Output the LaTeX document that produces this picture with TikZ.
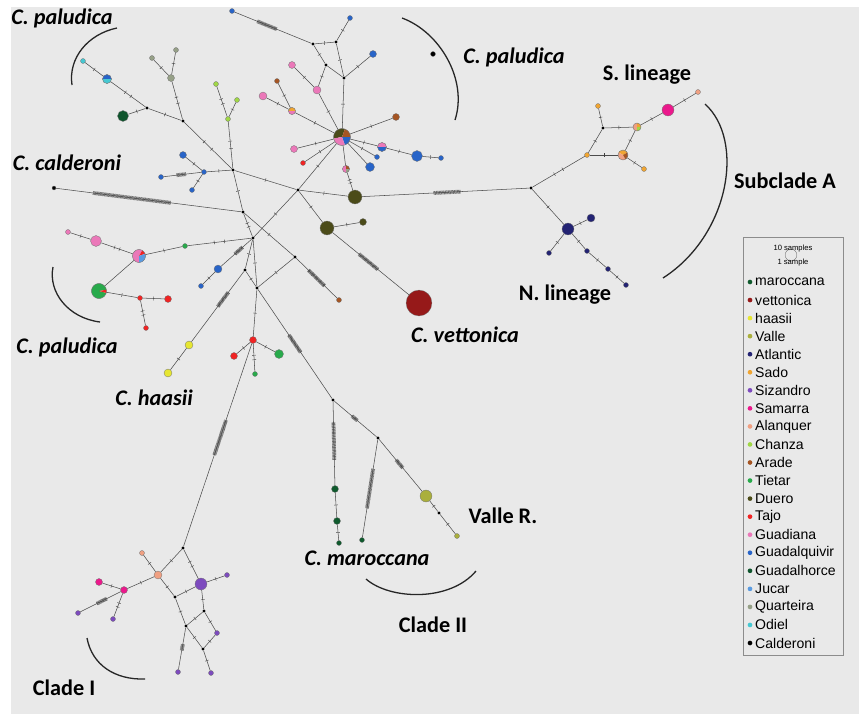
\documentclass[tikz,border=0pt]{standalone}
\usepackage{fontspec}
\setmainfont{Carlito}
\newfontfamily\legfont{Liberation Sans}
\usepackage{tikz}
\usetikzlibrary{decorations.markings}

\definecolor{bggray}{RGB}{233,233,233}
\definecolor{maroccana}{RGB}{15,90,45}
\definecolor{vettonica}{RGB}{150,25,25}
\definecolor{haasii}{RGB}{230,230,50}
\definecolor{Valle}{RGB}{170,175,60}
\definecolor{Atlantic}{RGB}{35,35,115}
\definecolor{Sado}{RGB}{240,165,50}
\definecolor{Sizandro}{RGB}{125,75,190}
\definecolor{Samarra}{RGB}{235,25,140}
\definecolor{Alanquer}{RGB}{240,160,130}
\definecolor{Chanza}{RGB}{160,215,70}
\definecolor{Arade}{RGB}{165,85,35}
\definecolor{Tietar}{RGB}{40,170,75}
\definecolor{Duero}{RGB}{75,75,25}
\definecolor{Tajo}{RGB}{240,35,35}
\definecolor{Guadiana}{RGB}{235,120,185}
\definecolor{Guadalquivir}{RGB}{40,100,200}
\definecolor{Guadalhorce}{RGB}{15,85,45}
\definecolor{Jucar}{RGB}{90,155,225}
\definecolor{Quarteira}{RGB}{150,160,135}
\definecolor{Odiel}{RGB}{70,200,210}
\definecolor{Calderoni}{RGB}{0,0,0}

\newcommand\tickmark{\draw[black!75,line width=0.35pt] (0,-1.6pt) -- (0,1.6pt);}
\newcommand\pieslice[5]{\fill[#5] (#1.center) -- ++(#3:#2) arc[start angle=#3,end angle=#4,radius=#2] -- cycle;}
\newcommand\pieline[2]{\draw[black!55,line width=0.25pt] (#1.center) circle[radius=#2];}

\begin{document}
\begin{tikzpicture}[x=0.03cm,y=-0.03cm]
\tikzset{
  lk/.style={draw=black!70,line width=0.45pt},
  t1/.style={postaction={decorate,decoration={markings,mark=at position 0.5 with {\tickmark}}}},
  t2/.style={postaction={decorate,decoration={markings,mark=at position 0.42 with {\tickmark},mark=at position 0.58 with {\tickmark}}}},
  bar/.style 2 args={postaction={decorate,decoration={markings,mark=between positions #1 and #2 step 0.7pt with {\tickmark}}}},
  hap/.style 2 args={circle,draw=black!55,line width=0.25pt,fill=#1,inner sep=0pt,minimum size=#2*0.85pt},
  jn/.style={circle,fill=black,inner sep=0pt,minimum size=2.8pt},
  clab/.style={font=\fontsize{19}{22}\selectfont\bfseries\itshape},
  glab/.style={font=\fontsize{19}{22}\selectfont\bfseries},
  brace/.style={draw=black!85,line width=1.1pt},
  legtext/.style={font=\legfont\fontsize{12}{14}\selectfont,inner sep=0pt}
}
\useasboundingbox (0,0) rectangle (859,714);
\fill[bggray] (11,7) rectangle (859,714);

% haplotypes, upper left
\node[hap={Odiel}{5}] (od) at (83,61) {};
\node[hap={white}{9}] (bc) at (107,79) {};
\node[hap={Guadalhorce}{11}] (gh) at (123,116) {};
\node[jn] (ja) at (147,108) {};
\node[jn] (jb) at (183,121) {};
\node[hap={Quarteira}{5}] (qa1) at (152,58) {};
\node[hap={Quarteira}{5}] (qa2) at (176,50) {};
\node[hap={Quarteira}{7}] (qa3) at (171,78) {};
\node[hap={Chanza}{5}] (ch1) at (216,84) {};
\node[hap={Chanza}{5}] (ch2) at (237,100) {};
\node[hap={Chanza}{5}] (ch3) at (228,119) {};
\node[jn] (j1) at (233,170) {};
\node[hap={Guadalquivir}{5}] (gb1) at (204,172) {};
\node[hap={Guadalquivir}{7}] (gb2) at (183,155) {};
\node[hap={Guadalquivir}{5}] (gb3) at (161,177) {};
\node[hap={Guadalquivir}{5}] (gb4) at (192,190) {};
\node[hap={Calderoni}{4}] (cal) at (54,188) {};

% centre of the network
\node[jn] (j2) at (298,190) {};
\node[jn] (j3) at (243,212) {};
\node[jn] (j4) at (253,238) {};
\node[jn] (j5) at (295,257) {};
\node[jn] (j6) at (245,270) {};
\node[jn] (j7) at (257,288) {};
\node[hap={Arade}{5}] (ar1) at (339,300) {};
\node[hap={Duero}{14}] (du1) at (355,197) {};
\node[hap={Duero}{14}] (du2) at (327,228) {};
\node[hap={Duero}{7}] (du3) at (363,222) {};
\node[hap={vettonica}{26}] (vet) at (419,303) {};

% upper cluster
\node[hap={Guadalquivir}{5}] (gbt1) at (232,11) {};
\node[jn] (jt1) at (313,44) {};
\node[jn] (jt2) at (336,42) {};
\node[jn] (jt3) at (326,65) {};
\node[jn] (jt4) at (344,78) {};
\node[hap={Guadalquivir}{5}] (gbt2) at (350,18) {};
\node[hap={Guadalquivir}{7}] (gbt3) at (373,54) {};
\node[hap={Guadiana}{7}] (gd1) at (292,65) {};
\node[hap={Guadiana}{8}] (gd2) at (317,90) {};
\node[hap={Arade}{5}] (ar2) at (277,81) {};
\node[hap={Guadiana}{8}] (gd3) at (263,96) {};
\node[hap={white}{7}] (po) at (292,111) {};
\node[hap={white}{17}] (cen) at (342,137) {};
\node[hap={Arade}{7}] (ar3) at (396,117) {};
\node[hap={white}{9}] (pb) at (382,147) {};
\node[hap={Guadalquivir}{11}] (gb5) at (417,156) {};
\node[hap={Guadalquivir}{5}] (gb6) at (441,158) {};
\node[hap={Guadalquivir}{5}] (gb7) at (377,157) {};
\node[hap={Guadalquivir}{9}] (gb8) at (370,167) {};
\node[hap={Guadiana}{7}] (gd4) at (294,149) {};
\node[hap={Tajo}{5}] (tj1) at (303,163) {};
\node[hap={white}{7}] (mx) at (346,169) {};
\node[hap={Calderoni}{5}] (cal2) at (433,54) {};

% left cluster
\node[hap={Guadiana}{5}] (gd5) at (68,232) {};
\node[hap={Guadiana}{11}] (gd6) at (96,241) {};
\node[hap={white}{13}] (pp) at (139,256) {};
\node[hap={Tietar}{5}] (ti1) at (185,246) {};
\node[hap={white}{15}] (tb) at (99,291) {};
\node[hap={Tajo}{5}] (tj2) at (140,298) {};
\node[hap={Tajo}{7}] (tj3) at (168,299) {};
\node[hap={Tajo}{5}] (tj4) at (146,328) {};
\node[hap={Guadalquivir}{8}] (gb9) at (218,269) {};
\node[hap={Guadalquivir}{5}] (gb10) at (201,286) {};
\node[hap={haasii}{8}] (ha1) at (189,345) {};
\node[hap={haasii}{8}] (ha2) at (168,373) {};
\node[hap={Tajo}{7}] (tj5) at (253,340) {};
\node[hap={Tajo}{7}] (tj6) at (234,356) {};
\node[hap={Tietar}{9}] (ti2) at (279,354) {};
\node[hap={Tietar}{5}] (ti3) at (255,374) {};

% clade II
\node[jn] (j8) at (333,400) {};
\node[jn] (j9) at (378,438) {};
\node[hap={maroccana}{7}] (ma1) at (335,489) {};
\node[hap={maroccana}{7}] (ma2) at (337,521) {};
\node[hap={maroccana}{5}] (ma3) at (339,543) {};
\node[hap={maroccana}{5}] (ma4) at (362,540) {};
\node[hap={Valle}{12}] (va1) at (426,496) {};
\node[jn] (jv) at (439,513) {};
\node[hap={Valle}{5}] (va2) at (457,536) {};

% subclade A
\node[jn] (jA) at (531,188) {};
\node[hap={Sado}{5}] (sa1) at (587,155) {};
\node[jn] (js) at (603,128) {};
\node[hap={Sado}{5}] (sa2) at (598,106) {};
\node[hap={white}{8}] (sm1) at (637,127) {};
\node[hap={white}{10}] (sm2) at (623,155) {};
\node[hap={Sado}{5}] (sa3) at (644,169) {};
\node[hap={Samarra}{12}] (smr) at (668,110) {};
\node[hap={Alanquer}{5}] (al1) at (698,92) {};
\node[hap={Atlantic}{12}] (at1) at (568,229) {};
\node[hap={Atlantic}{8}] (at2) at (591,218) {};
\node[hap={Atlantic}{5}] (at3) at (549,253) {};
\node[hap={Atlantic}{5}] (at4) at (587,251) {};
\node[hap={Atlantic}{5}] (at5) at (608,269) {};
\node[hap={Atlantic}{5}] (at6) at (626,285) {};

% clade I
\node[jn] (jc1) at (183,548) {};
\node[hap={Alanquer}{8}] (al2) at (158,575) {};
\node[hap={Alanquer}{5}] (al3) at (142,553) {};
\node[hap={Samarra}{7}] (sr1) at (124,590) {};
\node[hap={Samarra}{7}] (sr2) at (99,582) {};
\node[hap={Sizandro}{5}] (sz1) at (78,613) {};
\node[hap={Sizandro}{5}] (sz2) at (113,619) {};
\node[hap={Sizandro}{12}] (szb) at (201,584) {};
\node[hap={Sizandro}{5}] (sz3) at (227,575) {};
\node[jn] (jc2) at (175,597) {};
\node[jn] (jc3) at (204,611) {};
\node[jn] (jc4) at (186,626) {};
\node[jn] (jc5) at (203,649) {};
\node[hap={Sizandro}{5}] (sz4) at (217,633) {};
\node[hap={Sizandro}{5}] (sz5) at (178,672) {};
\node[hap={Sizandro}{5}] (sz6) at (211,673) {};

% pie charts
\pieslice{bc}{3.8pt}{0}{180}{Guadalquivir}
\pieslice{bc}{3.8pt}{180}{360}{Odiel}
\pieline{bc}{3.8pt}
\pieslice{po}{3pt}{0}{180}{Sado}
\pieslice{po}{3pt}{180}{360}{Guadiana}
\pieline{po}{3pt}
\pieslice{cen}{7.2pt}{70}{190}{Duero}
\pieslice{cen}{7.2pt}{0}{70}{Arade}
\pieslice{cen}{7.2pt}{-70}{0}{Guadalquivir}
\pieslice{cen}{7.2pt}{190}{290}{Guadiana}
\pieline{cen}{7.2pt}
\pieslice{pb}{3.8pt}{0}{180}{Guadiana}
\pieslice{pb}{3.8pt}{180}{360}{Guadalquivir}
\pieline{pb}{3.8pt}
\pieslice{mx}{3pt}{90}{270}{Guadiana}
\pieslice{mx}{3pt}{0}{90}{Arade}
\pieslice{mx}{3pt}{270}{360}{Quarteira}
\pieline{mx}{3pt}
\pieslice{pp}{5.5pt}{60}{270}{Guadiana}
\pieslice{pp}{5.5pt}{20}{60}{Tajo}
\pieslice{pp}{5.5pt}{270}{380}{Jucar}
\pieline{pp}{5.5pt}
\pieslice{tb}{6.4pt}{10}{345}{Tietar}
\pieslice{tb}{6.4pt}{-15}{10}{Tajo}
\pieline{tb}{6.4pt}
\pieslice{sm1}{3.4pt}{90}{270}{Alanquer}
\pieslice{sm1}{3.4pt}{0}{90}{Sado}
\pieslice{sm1}{3.4pt}{-90}{0}{Chanza}
\pieline{sm1}{3.4pt}
\pieslice{sm2}{4.25pt}{30}{150}{Sado}
\pieslice{sm2}{4.25pt}{150}{300}{Alanquer}
\pieslice{sm2}{4.25pt}{300}{390}{Arade}
\pieline{sm2}{4.25pt}

% links, upper left
\draw[lk,t1] (od) -- (bc);
\draw[lk,t2] (bc) -- (ja);
\draw[lk,t1] (gh) -- (ja);
\draw[lk,t1] (ja) -- (jb);
\draw[lk,t1] (qa1) -- (qa3);
\draw[lk,t1] (qa2) -- (qa3);
\draw[lk,t2] (qa3) -- (jb);
\draw[lk,t2] (jb) -- (j1);
\draw[lk,t2] (ch1) -- (ch3);
\draw[lk,t1] (ch2) -- (ch3);
\draw[lk,t2] (ch3) -- (j1);
\draw[lk,t1] (gb2) -- (gb1);
\draw[lk,bar={0.35}{0.6}] (gb3) -- (gb1);
\draw[lk,t1] (gb4) -- (gb1);
\draw[lk,t1] (gb1) -- (j1);
\draw[lk,bar={0.2}{0.62}] (cal) -- (j3);

% links, centre
\draw[lk,t1] (j1) -- (j2);
\draw[lk,t1] (j1) -- (j3);
\draw[lk,t2] (j3) -- (j4);
\draw[lk,t1] (j2) -- (j4);
\draw[lk,t1] (j2) -- (du1);
\draw[lk,t1] (j2) -- (cen);
\draw[lk,t1] (j2) -- (du2);
\draw[lk,t1] (du2) -- (du3);
\draw[lk,bar={0.35}{0.6}] (du2) -- (vet);
\draw[lk,t1] (j3) -- (j5);
\draw[lk,bar={0.3}{0.7}] (j5) -- (ar1);
\draw[lk,t1] (j5) -- (j7);
\draw[lk,t1] (j4) -- (j6);
\draw[lk,t1] (j4) -- (j7);
\draw[lk,t1] (j6) -- (j7);
\draw[lk,bar={0.3}{0.55}] (j4) -- (gb9);
\draw[lk,t1] (gb9) -- (gb10);
\draw[lk,bar={0.3}{0.5}] (j6) -- (ha1);
\draw[lk,t1] (ha1) -- (ha2);
\draw[lk,t1] (j7) -- (tj5);
\draw[lk,t1] (tj5) -- (tj6);
\draw[lk,t1] (tj5) -- (ti2);
\draw[lk,t2] (tj5) -- (ti3);

% links, left cluster
\draw[lk,t2] (j4) -- (ti1);
\draw[lk,t1] (ti1) -- (pp);
\draw[lk,t2] (pp) -- (gd6);
\draw[lk,t1] (gd6) -- (gd5);
\draw[lk] (pp) -- (tb);
\draw[lk,t1] (tb) -- (tj2);
\draw[lk,t1] (tj2) -- (tj3);
\draw[lk,t2] (tj2) -- (tj4);

% links, upper cluster
\draw[lk,bar={0.3}{0.55}] (gbt1) -- (jt1);
\draw[lk,t1] (jt1) -- (jt2);
\draw[lk,t1] (jt2) -- (gbt2);
\draw[lk,t1] (jt1) -- (jt3);
\draw[lk,t1] (jt2) -- (jt4);
\draw[lk] (jt3) -- (jt4);
\draw[lk,t1] (jt3) -- (gd2);
\draw[lk,t1] (jt4) -- (gbt3);
\draw[lk,t1] (jt4) -- (cen);
\draw[lk,t1] (gd1) -- (gd2);
\draw[lk,t1] (gd2) -- (cen);
\draw[lk,t1] (ar2) -- (po);
\draw[lk,t1] (gd3) -- (po);
\draw[lk,t1] (po) -- (cen);
\draw[lk,t1] (cen) -- (ar3);
\draw[lk,t1] (cen) -- (pb);
\draw[lk,t1] (pb) -- (gb5);
\draw[lk,t1] (gb5) -- (gb6);
\draw[lk,t1] (cen) -- (gb7);
\draw[lk] (cen) -- (gb8);
\draw[lk,t1] (cen) -- (gd4);
\draw[lk,t1] (cen) -- (tj1);
\draw[lk] (cen) -- (mx);
\draw[lk,t2] (mx) -- (du1);

% links, subclade A
\draw[lk,bar={0.43}{0.59}] (du1) -- (jA);
\draw[lk,t2] (jA) -- (sa1);
\draw[lk,t1] (sa1) -- (js);
\draw[lk,t1] (js) -- (sa2);
\draw[lk,t1] (js) -- (sm1);
\draw[lk,t1] (sa1) -- (sm2);
\draw[lk,t1] (sm1) -- (sm2);
\draw[lk,t1] (sm2) -- (sa3);
\draw[lk,t1] (sm1) -- (smr);
\draw[lk,t1] (smr) -- (al1);
\draw[lk,t1] (jA) -- (at1);
\draw[lk,t1] (at1) -- (at2);
\draw[lk,t1] (at1) -- (at3);
\draw[lk,t1] (at1) -- (at4);
\draw[lk,t1] (at4) -- (at5);
\draw[lk,t1] (at5) -- (at6);

% links, clade II
\draw[lk,bar={0.42}{0.58}] (j7) -- (j8);
\draw[lk,bar={0.25}{0.7}] (j8) -- (ma1);
\draw[lk,t1] (ma1) -- (ma2);
\draw[lk,t1] (ma2) -- (ma3);
\draw[lk,bar={0.42}{0.55}] (j8) -- (j9);
\draw[lk,bar={0.3}{0.7}] (j9) -- (ma4);
\draw[lk,bar={0.4}{0.55}] (j9) -- (va1);
\draw[lk,t1] (va1) -- (jv);
\draw[lk,t1] (jv) -- (va2);

% links, clade I
\draw[lk,bar={0.38}{0.55}] (tj5) -- (jc1);
\draw[lk,t1] (jc1) -- (al2);
\draw[lk,t2] (jc1) -- (szb);
\draw[lk,t1] (al2) -- (al3);
\draw[lk,t1] (al2) -- (sr1);
\draw[lk,t1] (al2) -- (jc2);
\draw[lk,t1] (jc2) -- (szb);
\draw[lk,t1] (jc2) -- (jc4);
\draw[lk,t1] (szb) -- (sz3);
\draw[lk,t1] (szb) -- (jc3);
\draw[lk,t1] (jc3) -- (jc4);
\draw[lk,t1] (jc3) -- (sz4);
\draw[lk,t1] (jc4) -- (jc5);
\draw[lk,t1] (sz4) -- (jc5);
\draw[lk,bar={0.4}{0.55}] (jc4) -- (sz5);
\draw[lk,t1] (jc5) -- (sz6);
\draw[lk,t1] (sr1) -- (sr2);
\draw[lk,bar={0.35}{0.6}] (sr1) -- (sz1);
\draw[lk,t2] (sr1) -- (sz2);

% brackets
\draw[brace] (117,28) .. controls (88,34) and (68,58) .. (72,85);
\draw[brace] (402,18) .. controls (440,32) and (468,80) .. (455,120);
\draw[brace] (705,104) .. controls (745,140) and (730,235) .. (663,278);
\draw[brace] (53,267) .. controls (48,292) and (68,318) .. (100,322);
\draw[brace] (366,579) .. controls (390,600) and (450,602) .. (476,571);
\draw[brace] (87,638) .. controls (92,665) and (115,680) .. (145,679);

% group labels
\node[clab] (lpal1) at (62,18) {C. paludica};
\node[clab] (lpal2) at (514,57) {C. paludica};
\node[clab] (lcal) at (67,163) {C. calderoni};
\node[clab] (lpal3) at (67,347) {C. paludica};
\node[clab] (lhaa) at (154,398) {C. haasii};
\node[clab] (lvet) at (465,335) {C. vettonica};
\node[clab] (lmar) at (367,558) {C. maroccana};
\node[glab] (lslin) at (647,75) {S. lineage};
\node[glab] (lnlin) at (565,295) {N. lineage};
\node[glab] (lsubA) at (785,181) {Subclade A};
\node[glab] (lvalle) at (503,516) {Valle R.};
\node[glab] (lcII) at (433,625) {Clade II};
\node[glab] (lcI) at (64,688) {Clade I};

% legend
\draw[black!45,line width=0.5pt] (743,237) rectangle (843,655);
\node[circle,draw=black!60,line width=0.3pt,minimum size=10pt,inner sep=0pt] (scale) at (791,255) {};
\node[font=\legfont\fontsize{6.5}{7}\selectfont] (ten) at (793,249) {10 samples};
\node[font=\legfont\fontsize{6.5}{7}\selectfont] (one) at (793,263) {1 sample};
\foreach \n [count=\i] in {maroccana,vettonica,haasii,Valle,Atlantic,Sado,Sizandro,Samarra,Alanquer,Chanza,Arade,Tietar,Duero,Tajo,Guadiana,Guadalquivir,Guadalhorce,Jucar,Quarteira,Odiel,Calderoni}{
  \node[circle,fill=\n,inner sep=0pt,minimum size=4pt] (ld\i) at (750,{282+(\i-1)*18.05}) {};
  \node[legtext,anchor=west] (lt\i) at (755,{282+(\i-1)*18.05}) {\n};
}
\end{tikzpicture}
\end{document}
